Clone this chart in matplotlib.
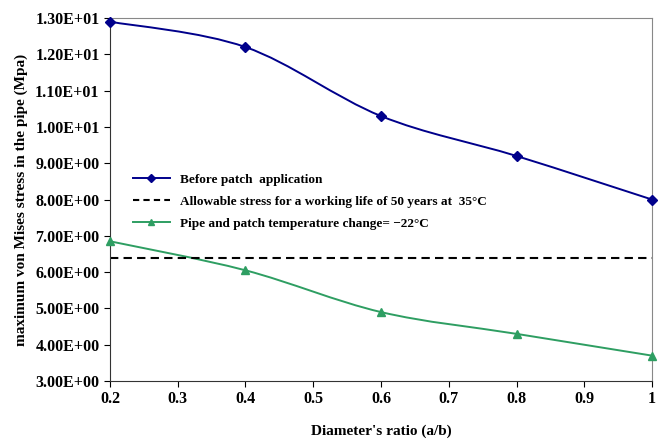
import matplotlib
matplotlib.use('Agg')
import matplotlib.pyplot as plt
from matplotlib.path import Path
from matplotlib.patches import PathPatch
from matplotlib.lines import Line2D
from matplotlib.ticker import FuncFormatter

plt.rcParams['font.family'] = ['Liberation Serif', 'DejaVu Serif']
plt.rcParams['font.weight'] = 'bold'

ratio = [0.2, 0.4, 0.6, 0.8, 1.0]
before_patch = [12.9, 12.2, 10.3, 9.2, 8.0]
temp_change = [6.85, 6.05, 4.9, 4.3, 3.7]
allowable = 6.4

BLUE = '#00008b'
GREEN = '#2e9e62'


def smooth_path(xs, ys):
  # excel-like smoothed line: bezier segments through the points
  n = len(xs)
  verts = [(xs[0], ys[0])]
  codes = [Path.MOVETO]
  for i in range(n - 1):
    x0, y0 = (xs[i - 1], ys[i - 1]) if i > 0 else (xs[i], ys[i])
    x3, y3 = (xs[i + 2], ys[i + 2]) if i + 2 < n else (xs[i + 1], ys[i + 1])
    c1 = (xs[i] + (xs[i + 1] - x0) / 6, ys[i] + (ys[i + 1] - y0) / 6)
    c2 = (xs[i + 1] - (x3 - xs[i]) / 6, ys[i + 1] - (y3 - ys[i]) / 6)
    verts += [c1, c2, (xs[i + 1], ys[i + 1])]
    codes += [Path.CURVE4] * 3
  return Path(verts, codes)


fig = plt.figure(figsize=(6.69, 4.40), dpi=100)
ax = fig.add_axes([0.1644, 0.134, 0.8102, 0.825])

for ys, color, marker, ms in [(before_patch, BLUE, 'D', 5), (temp_change, GREEN, '^', 6)]:
  ax.add_patch(PathPatch(smooth_path(ratio, ys), facecolor='none', edgecolor=color, lw=1.4))
  ax.plot(ratio, ys, ls='none', marker=marker, ms=ms, color=color, clip_on=False, zorder=5)

ax.axhline(allowable, color='black', ls=(0, (4, 2.5)), lw=1.5)

ax.set_xlim(0.2, 1.0)
ax.set_ylim(3.0, 13.0)
ax.set_xticks([0.2, 0.3, 0.4, 0.5, 0.6, 0.7, 0.8, 0.9, 1.0])
ax.set_xticklabels(['0.2', '0.3', '0.4', '0.5', '0.6', '0.7', '0.8', '0.9', '1'])
ax.set_yticks([3 + i for i in range(11)])
ax.yaxis.set_major_formatter(FuncFormatter(lambda v, p: '{:.2E}'.format(v)))
ax.tick_params(axis='both', labelsize=11.5, direction='out', length=4, width=0.8)

for side in ['top', 'right']:
  ax.spines[side].set_color('#888888')
for side in ['left', 'bottom']:
  ax.spines[side].set_color('#333333')

ax.set_xlabel("Diameter's ratio (a/b)", fontsize=11, fontweight='bold', labelpad=12)
ax.set_ylabel('maximum von Mises stress in the pipe (Mpa)', fontsize=11, fontweight='bold', labelpad=5)

handles = [
  Line2D([], [], color=BLUE, marker='D', ms=4, lw=1.4),
  Line2D([], [], color='black', ls=(0, (3, 2)), lw=1.5),
  Line2D([], [], color=GREEN, marker='^', ms=5, lw=1.4),
]
labels = [
  'Before patch  application',
  'Allowable stress for a working life of 50 years at  35°C',
  'Pipe and patch temperature change= \u221222°C',
]
ax.legend(handles, labels, loc='upper left', bbox_to_anchor=(0.02, 0.605), frameon=False,
          handlelength=2.8, labelspacing=0.75, prop={'weight': 'bold', 'size': 9.5})

fig.savefig('out.png', dpi=100)
